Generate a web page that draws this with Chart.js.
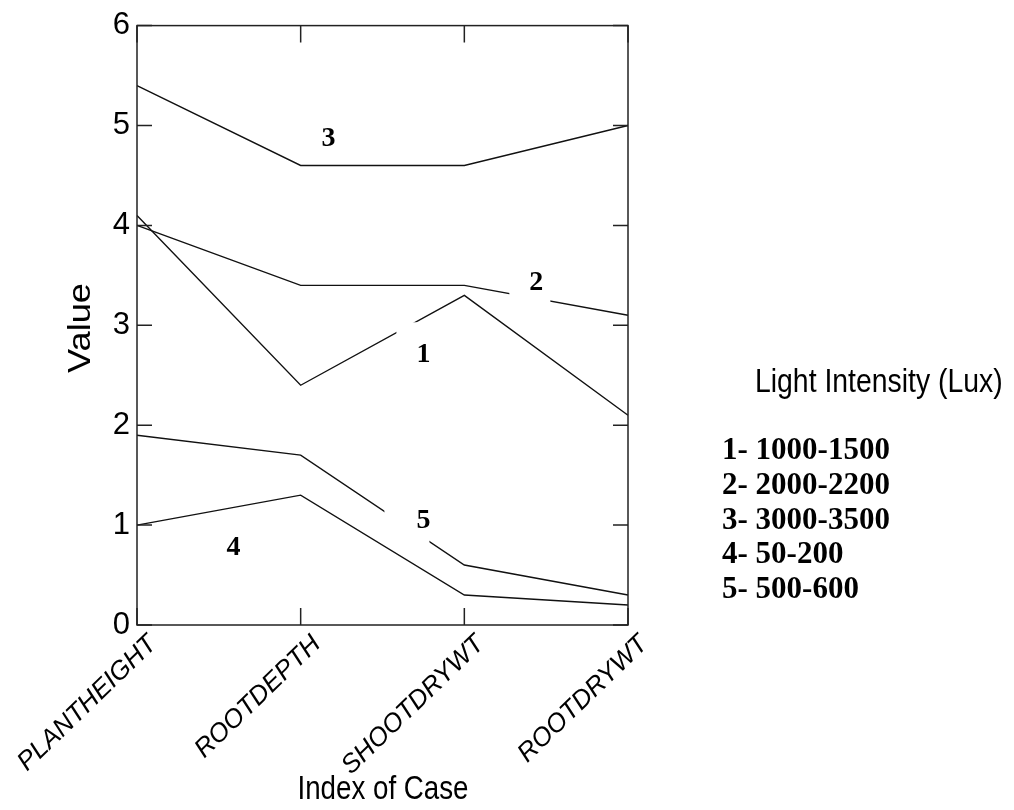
<!DOCTYPE html>
<html>
<head>
<meta charset="utf-8">
<script src="https://cdn.jsdelivr.net/npm/chart.js@4.4.1/dist/chart.umd.min.js"></script>
<style>
  body { margin: 0; background: #fff; }
  #wrap { width: 1014px; height: 810px; }
</style>
</head>
<body>
<div id="wrap"><canvas id="caseChart" width="1014" height="810"></canvas></div>
<script>
const categories = ['PLANTHEIGHT', 'ROOTDEPTH', 'SHOOTDRYWT', 'ROOTDRYWT'];
const series1 = [4.1, 2.4, 3.3, 2.1];
const series2 = [4.0, 3.4, 3.4, 3.1];
const series3 = [5.4, 4.6, 4.6, 5.0];
const series4 = [1.0, 1.3, 0.3, 0.2];
const series5 = [1.9, 1.7, 0.6, 0.3];
const seriesNames = ['1- 1000-1500', '2- 2000-2200', '3- 3000-3500', '4- 50-200', '5- 500-600'];
const yTicks = [0, 1, 2, 3, 4, 5, 6];

// curve numbers, placed in data space (category index, value)
const curveLabels = [
    {text: '3', at: 1.17, val: 4.87, mask: null},
    {text: '2', at: 2.44, val: 3.43, mask: [-27, 14, -20, 22]},
    {text: '1', at: 1.75, val: 2.71, mask: [-27, 10, -32, 6]},
    {text: '5', at: 1.75, val: 1.04, mask: [-39, 6, -22, 22]},
    {text: '4', at: 0.59, val: 0.77, mask: null}
];

const SANS = "'Liberation Sans', Arial, sans-serif";
const SERIF = "'Liberation Serif', 'Times New Roman', serif";

// draw text squeezed/stretched along its direction
function squeezed(ctx, text, x, y, sx) {
    ctx.save();
    ctx.translate(x, y);
    ctx.scale(sx, 1);
    ctx.fillText(text, 0, 0);
    ctx.restore();
}

const frame = {
    id: 'frame',
    afterDatasetsDraw(chart) {
        const {ctx, chartArea: a, scales: {x, y}} = chart;
        const step = x.getPixelForValue(1) - x.getPixelForValue(0);
        ctx.save();
        // white gaps behind the curve numbers, then the numbers
        ctx.font = 'bold 28px ' + SERIF;
        ctx.textAlign = 'center';
        ctx.textBaseline = 'middle';
        curveLabels.forEach(function (l) {
            const px = x.getPixelForValue(0) + l.at * step;
            const py = y.getPixelForValue(l.val);
            if (l.mask) {
                ctx.fillStyle = '#fff';
                ctx.fillRect(px + l.mask[0], py + l.mask[2], l.mask[1] - l.mask[0], l.mask[3] - l.mask[2]);
            }
            ctx.fillStyle = '#000';
            ctx.fillText(l.text, px, py);
        });

        // box and inward ticks
        ctx.strokeStyle = '#222';
        ctx.lineWidth = 1.5;
        ctx.strokeRect(a.left, a.top, a.right - a.left, a.bottom - a.top);
        ctx.beginPath();
        yTicks.forEach(function (v) {
            const py = y.getPixelForValue(v);
            ctx.moveTo(a.left, py); ctx.lineTo(a.left + 15, py);
            ctx.moveTo(a.right, py); ctx.lineTo(a.right - 15, py);
        });
        categories.forEach(function (c, i) {
            const px = x.getPixelForValue(i);
            ctx.moveTo(px, a.top); ctx.lineTo(px, a.top + 17);
            ctx.moveTo(px, a.bottom); ctx.lineTo(px, a.bottom - 17);
        });
        ctx.stroke();
        ctx.restore();
    },
    afterDraw(chart) {
        const {ctx} = chart;
        ctx.save();
        ctx.fillStyle = '#000';
        ctx.textBaseline = 'middle';

        // axis titles
        ctx.font = '33px ' + SANS;
        ctx.textAlign = 'center';
        squeezed(ctx, 'Index of Case', 383, 790, 0.84);
        ctx.save();
        ctx.translate(81, 328);
        ctx.rotate(-Math.PI / 2);
        ctx.font = '31px ' + SANS;
        squeezed(ctx, 'Value', 0, 0, 1.17);
        ctx.restore();

        // legend
        ctx.textAlign = 'left';
        ctx.font = '33px ' + SANS;
        squeezed(ctx, 'Light Intensity (Lux)', 755, 383, 0.86);
        ctx.font = 'bold 31px ' + SERIF;
        seriesNames.forEach(function (n, i) {
            ctx.fillText(n, 722, 451 + i * 34.8);
        });
        ctx.restore();
    }
};

const ctx = document.getElementById('caseChart').getContext('2d');
const lines = [series1, series2, series3, series4, series5];
const chart = new Chart(ctx, {
    type: 'line',
    data: {
        labels: categories,
        datasets: lines.map(function (s, i) {
            return {
                label: seriesNames[i],
                data: s,
                borderColor: '#111',
                borderWidth: 1.4,
                pointRadius: 0,
                tension: 0,
                fill: false
            };
        })
    },
    options: {
        responsive: false,
        animation: false,
        events: [],
        layout: {
            padding: {left: 0, right: 386, top: 25, bottom: 0}
        },
        plugins: {
            legend: {display: false},
            tooltip: {enabled: false}
        },
        scales: {
            x: {
                type: 'category',
                offset: false,
                grid: {display: false, drawTicks: false},
                border: {display: false},
                ticks: {
                    color: '#000',
                    font: {family: SANS, size: 26, style: 'italic'},
                    minRotation: 44,
                    maxRotation: 44,
                    padding: 4,
                    labelOffset: 16,
                    autoSkip: false
                },
                afterFit: function (scale) {
                    scale.height = 185;
                    scale.paddingLeft = 0;
                    scale.paddingRight = 0;
                }
            },
            y: {
                min: 0,
                max: 6,
                grid: {display: false, drawTicks: false},
                border: {display: false},
                ticks: {
                    stepSize: 1,
                    color: '#000',
                    font: {family: SANS, size: 31},
                    padding: 7
                },
                afterFit: function (scale) { scale.width = 137; }
            }
        }
    },
    plugins: [frame]
});
</script>
</body>
</html>
